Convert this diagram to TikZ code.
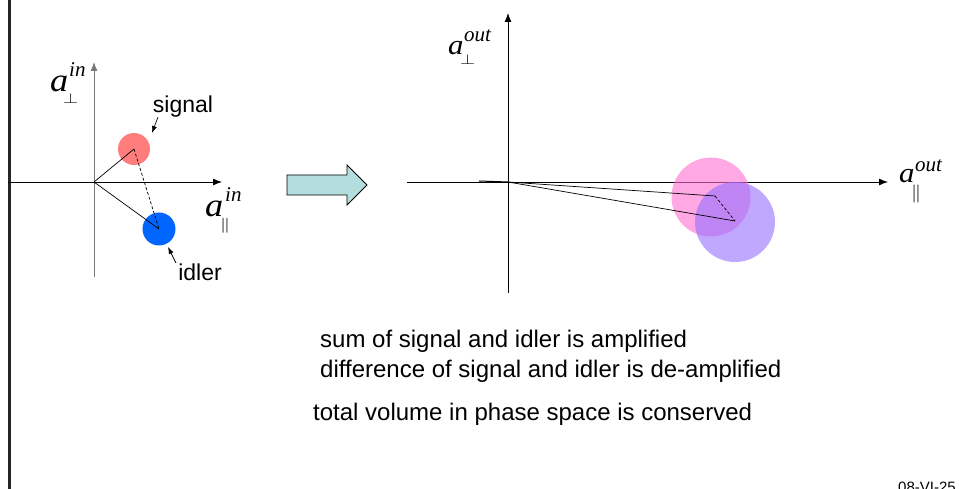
\documentclass[tikz,border=0pt]{standalone}
\usepackage{graphicx}
\usepackage{fontspec}
\setmainfont{Liberation Sans}
\newfontfamily\tms{Liberation Serif}
\usetikzlibrary{arrows.meta}
\definecolor{sigred}{RGB}{255,125,125}
\definecolor{idlblue}{RGB}{0,102,255}
\definecolor{arrfill}{RGB}{180,222,222}
\definecolor{pinkc}{RGB}{255,110,210}
\definecolor{purpc}{RGB}{150,110,255}
\definecolor{axgray}{RGB}{120,120,120}
\tikzset{
  axisline/.style={line width=0.9pt,-{Latex[length=9pt,width=7pt]}},
  vec/.style={line width=0.7pt},
  dashvec/.style={line width=0.7pt,dashed,dash pattern=on 3pt off 2pt},
  txt/.style={font=\fontsize{24}{28}\selectfont,anchor=base west,inner sep=0pt},
  lbltxt/.style={font=\fontsize{23}{27}\selectfont,anchor=base,inner sep=0pt},
  abase/.style={inner sep=0pt,anchor=base west,font=\fontsize{#1}{#1}\selectfont\tms\itshape},
  asup/.style={inner sep=0pt,anchor=base west,font=\fontsize{21}{21}\selectfont\tms\itshape},
  asub/.style={inner sep=0pt,anchor=north west},
  pointer/.style={line width=0.7pt,-{Latex[length=7pt,width=5pt]}},
}
\begin{document}
\begin{tikzpicture}[x=1pt,y=-1pt]
\useasboundingbox (0,0) rectangle (959,489);
% left border
\draw[line width=3pt,black!85] (9,0) -- (9,489);
% left diagram
\coordinate (o1) at (94,182);
\coordinate (lxs) at (8,182);
\coordinate (lxe) at (222,182);
\coordinate (lys) at (94,277);
\coordinate (lye) at (94,62);
\draw[axisline,axgray] (lys) -- (lye);
\draw[axisline] (lxs) -- (lxe);
\node[circle,fill=sigred,minimum size=32pt,inner sep=0pt] (sig) at (134,149) {};
\node[circle,fill=idlblue,minimum size=33pt,inner sep=0pt] (idl) at (159,229) {};
\draw[vec] (o1) -- (sig.center);
\draw[vec] (o1) -- (idl.center);
\draw[dashvec] (sig.center) -- (idl.center);
\node[lbltxt] (sigt) at (183,113) {signal};
\node[lbltxt] (idlt) at (200,281) {idler};
\coordinate (sigp) at (158,117);
\coordinate (idlp) at (176,263);
\draw[pointer] (sigp) -- (152,133);
\draw[pointer] (idlp) -- (168,247);
% input labels
\node[abase=33] (la1) at (50,92) {\scalebox{1.1}[1]{a}};
\node[asup] (ls1) at (69,77) {in};
\node[asub] (lb1) at (63,93) {\resizebox*{15pt}{10pt}{$\perp$}};
\node[abase=33] (la2) at (205,217) {\scalebox{1.1}[1]{a}};
\node[asup] (ls2) at (225,202) {in};
\node[asub] (lb2) at (220,218) {\resizebox*{10pt}{15pt}{$\parallel$}};
% block arrow
\draw[line width=0.8pt,fill=arrfill] (287,175) -- (347,175) -- (347,165) -- (367,185) -- (347,205) -- (347,195) -- (287,195) -- cycle;
% right diagram
\coordinate (o2) at (508,182);
\coordinate (rxs) at (407,182);
\coordinate (rxe) at (888,182);
\coordinate (rys) at (508,293);
\coordinate (rye) at (508,13);
\draw[axisline] (rys) -- (rye);
\draw[axisline] (rxs) -- (rxe);
\node[circle,fill=pinkc,fill opacity=0.6,minimum size=79pt,inner sep=0pt] (pk) at (711,197) {};
\node[circle,fill=purpc,fill opacity=0.6,minimum size=80pt,inner sep=0pt] (pp) at (735,222) {};
\coordinate (p1) at (715,196);
\coordinate (p2) at (735,221);
\coordinate (st) at (479,181);
\draw[line width=1pt] (st) -- (o2);
\draw[vec] (o2) -- (p1);
\draw[vec] (o2) -- (p2);
\draw[dashvec] (p1) -- (p2);
% output labels
\node[abase=28] (ra1) at (448,55) {\scalebox{1.1}[1]{a}};
\node[asup] (rs1) at (464,42) {out};
\node[asub] (rb1) at (460,54) {\resizebox*{15pt}{10pt}{$\perp$}};
\node[abase=28] (ra2) at (899,183) {\scalebox{1.1}[1]{a}};
\node[asup] (rs2) at (915,172) {out};
\node[asub] (rb2) at (911,185) {\resizebox*{10pt}{18pt}{$\parallel$}};
% texts
\node[txt] (t1) at (320,347) {sum of signal and idler is amplified};
\node[txt] (t2) at (320,377) {difference of signal and idler is de-amplified};
\node[txt] (t3) at (313,420) {total volume in phase space is conserved};
\node[font=\fontsize{15}{17}\selectfont,anchor=base west,inner sep=0pt] (dt) at (898,492) {08-VI-25};
\end{tikzpicture}
\end{document}
